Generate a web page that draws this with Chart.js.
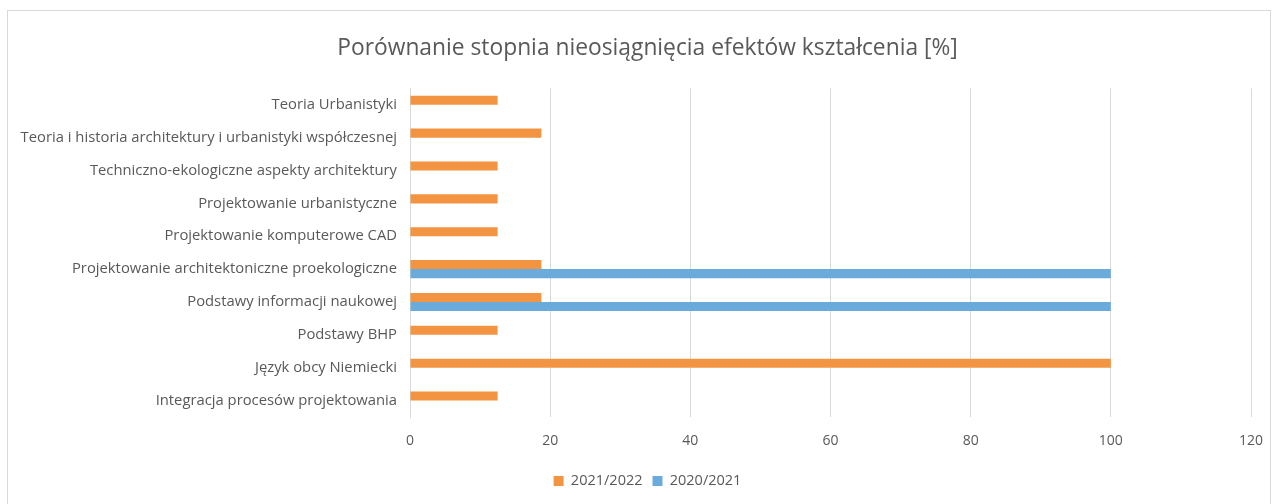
<!DOCTYPE html>
<html>
<head>
<meta charset="utf-8">
<script src="https://cdn.jsdelivr.net/npm/chart.js@4/dist/chart.umd.min.js"></script>
<style>
    html, body { margin: 0; padding: 0; background: #fff; }
    #wrap { position: relative; width: 1275px; height: 504px; overflow: hidden; }
    #frame { position: absolute; left: 7px; top: 10px; width: 1262px; height: 510px; border: 1px solid #d9d9d9; pointer-events: none; }
    canvas { position: absolute; left: 0; top: 0; }
</style>
</head>
<body>
<div id="wrap">
    <canvas id="chart" width="1275" height="504"></canvas>
    <div id="frame"></div>
</div>
<script>
// Przedmioty (od góry do dołu)
const subjects = [
    'Teoria Urbanistyki',
    'Teoria i historia architektury i urbanistyki współczesnej',
    'Techniczno-ekologiczne aspekty architektury',
    'Projektowanie urbanistyczne',
    'Projektowanie komputerowe CAD',
    'Projektowanie architektoniczne proekologiczne',
    'Podstawy informacji naukowej',
    'Podstawy BHP',
    'Język obcy Niemiecki',
    'Integracja procesów projektowania'
];
const values2122 = [12.5, 18.75, 12.5, 12.5, 12.5, 18.75, 18.75, 12.5, 100, 12.5];
const values2021 = [null, null, null, null, null, 100, 100, null, null, null];
const seriesNames = ['2021/2022', '2020/2021'];
const chartTitle = 'Porównanie stopnia nieosiągnięcia efektów kształcenia [%]';

const textColor = '#595959';
const gridColor = '#d9d9d9';
const fontFamily = "'Open Sans', 'Noto Sans', sans-serif";

document.addEventListener('DOMContentLoaded', function() {
    const ctx = document.getElementById('chart');
    new Chart(ctx.getContext('2d'), {
        type: 'bar',
        data: {
            labels: subjects,
            datasets: [
                {
                    label: seriesNames[0],
                    data: values2122,
                    backgroundColor: '#f39442',
                    barPercentage: 1,
                    categoryPercentage: 0.55
                },
                {
                    label: seriesNames[1],
                    data: values2021,
                    backgroundColor: '#6aabdc',
                    barPercentage: 1,
                    categoryPercentage: 0.55
                }
            ]
        },
        options: {
            responsive: false,
            animation: false,
            indexAxis: 'y',
            layout: {
                padding: { left: 44, right: 24, top: 0, bottom: 5.75 }
            },
            scales: {
                x: {
                    min: 0,
                    max: 120,
                    ticks: {
                        stepSize: 20,
                        color: textColor,
                        padding: 15.6,
                        font: { family: fontFamily, size: 14 }
                    },
                    grid: {
                        color: gridColor,
                        lineWidth: 1,
                        drawTicks: false
                    },
                    border: { display: false },
                    afterFit: function(scale) {
                        scale.paddingRight = 0;
                        scale.height = 46.75;
                    }
                },
                y: {
                    ticks: {
                        color: textColor,
                        padding: 13,
                        font: { family: fontFamily, size: 14.8 }
                    },
                    grid: { display: false, drawTicks: false },
                    border: { display: true, color: gridColor, width: 1 },
                    afterFit: function(scale) {
                        scale.width = 366;
                        // long labels reach past the layout padding, do not clip them
                        scale._computeLabelArea = function() { return undefined; };
                    }
                }
            },
            plugins: {
                title: {
                    display: true,
                    text: chartTitle,
                    color: textColor,
                    font: { family: fontFamily, size: 22.8, weight: 'normal' },
                    padding: { top: 35, bottom: 26 }
                },
                legend: {
                    position: 'bottom',
                    labels: {
                        color: textColor,
                        boxWidth: 10,
                        boxHeight: 10,
                        padding: 10,
                        font: { family: fontFamily, size: 14.5 }
                    }
                },
                tooltip: { enabled: false }
            }
        }
    });
});
</script>
</body>
</html>
